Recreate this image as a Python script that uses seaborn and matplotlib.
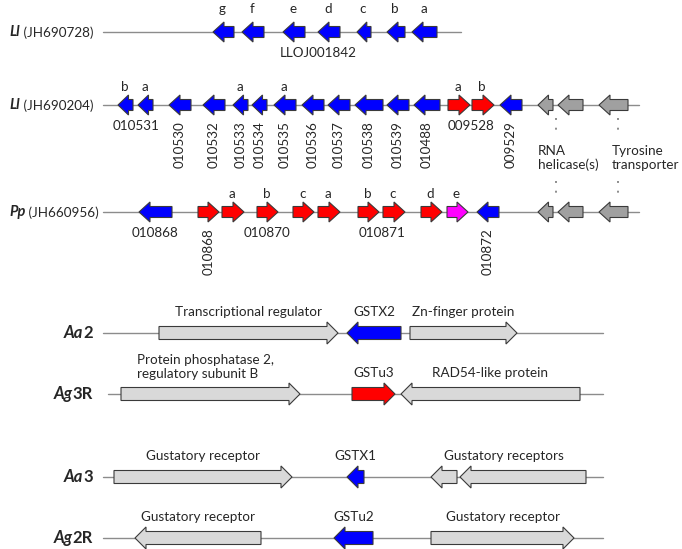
import matplotlib
matplotlib.use("Agg")
import matplotlib.pyplot as plt
from matplotlib.patches import Polygon
import seaborn as sns
import pandas as pd

# ---------------- data ----------------
track_species = ["Ll", "Ll", "Pp", "Aa", "Ag", "Aa", "Ag"]
track_suffix = [" (JH690728)", " (JH690204)", " (JH660956)", "2", "3R", "3", "2R"]
track_line_start = [103, 103, 103, 103, 108, 103, 103]
track_line_end = [461, 639, 639, 603, 603, 603, 603]

# genes: track, start, end, strand, kind, letter, id, id style, description
gene_track = ([0] * 7 + [1] * 18 + [2] * 14 + [3] * 3 + [4] * 3 + [5] * 4 + [6] * 3)
gene_start = [213, 242, 283, 318, 357, 387, 412,
              118, 138, 169, 203, 233, 252, 274, 302, 328, 355, 387, 414, 448, 472, 500, 538, 558, 599,
              139, 198, 222, 257, 293, 318, 358, 383, 421, 447, 477, 538, 558, 599,
              159, 347, 410,
              121, 352, 401,
              114, 347, 431, 460,
              135, 334, 431]
gene_end = [234, 264, 305, 340, 371, 405, 437,
            133, 153, 191, 225, 248, 267, 296, 324, 350, 383, 409, 440, 470, 494, 522, 553, 583, 628,
            172, 219, 244, 278, 314, 340, 379, 405, 442, 468, 499, 553, 583, 628,
            338, 401, 517,
            300, 395, 580,
            292, 364, 457, 586,
            261, 373, 574]
gene_strand = [-1] * 7 + \
              [-1] * 12 + [1, 1] + [-1] * 4 + \
              [-1] + [1] * 9 + [-1] * 4 + \
              [1, -1, 1] + \
              [1, 1, -1] + \
              [1, -1, -1, -1] + \
              [-1, -1, 1]
gene_kind = ["blue"] * 7 + \
            ["blue"] * 12 + ["red", "red", "blue", "gray", "gray", "gray"] + \
            ["blue"] + ["red"] * 8 + ["magenta", "blue", "gray", "gray", "gray"] + \
            ["light", "blue", "light"] + \
            ["light", "red", "light"] + \
            ["light", "blue", "light", "light"] + \
            ["light", "blue", "light"]
gene_letter = ["g", "f", "e", "d", "c", "b", "a",
               "b", "a", "", "", "a", "", "a", "", "", "", "", "", "a", "b", "", "", "", "",
               "", "", "a", "b", "c", "a", "b", "c", "d", "e", "", "", "", ""] + [""] * 13
gene_vlabel = [""] * 7 + \
              ["", "", "010530", "010532", "010533", "010534", "010535", "010536", "010537",
               "010538", "010539", "010488", "", "", "009529", "", "", ""] + \
              ["", "010868", "", "", "", "", "", "", "", "", "010872", "", "", ""] + [""] * 13
gene_hlabel = [""] * 7 + [""] * 18 + \
              ["010868", "", "", "010870", "", "", "", "", "", "", "", "", "", ""] + [""] * 13
gene_desc = [""] * 39 + \
            ["Transcriptional regulator", "GSTX2", "Zn-finger protein",
             "", "GSTu3", "RAD54-like protein",
             "Gustatory receptor", "GSTX1", "", "",
             "Gustatory receptor", "GSTu2", "Gustatory receptor"]

# labels that span several genes
span_text = ["LLOJ001842", "010531", "009528", "010871",
             "Protein phosphatase 2,\nregulatory subunit B", "Gustatory receptors"]
span_track = [0, 1, 1, 2, 4, 5]
span_x = [318, 136, 471, 382, 137, 504]

genes = pd.DataFrame(dict(track=gene_track, start=gene_start, end=gene_end,
                          strand=gene_strand, kind=gene_kind, letter=gene_letter,
                          vlabel=gene_vlabel, hlabel=gene_hlabel, desc=gene_desc))

# ---------------- layout / style ----------------
TRACK_Y = [32, 105, 212, 333, 394, 477, 538]
LETTER_DY = [23, 18, 18]
COLORS = {"blue": "#0000FF", "red": "#FF0000", "magenta": "#FF00FF",
          "gray": "#A0A0A0", "light": "#D9D9D9"}

sns.set_theme(style="white")
plt.rcParams['font.family'] = ['Lato', 'DejaVu Sans']

fig = plt.figure(figsize=(6.82, 5.49), dpi=100)
ax = fig.add_axes([0, 0, 1, 1])
ax.set_xlim(0, 682)
ax.set_ylim(549, 0)
ax.axis('off')

FS = 9.7

# backbone lines
for t, y in enumerate(TRACK_Y):
    ax.plot([track_line_start[t], track_line_end[t]], [y, y], color="#8c8c8c", lw=1.0, zorder=1)


def arrow(s, e, strand, y, color, bh, hh, hl):
    hl = min(hl, 0.7 * (e - s))
    if strand > 0:
        pts = [(s, y - bh / 2), (e - hl, y - bh / 2), (e - hl, y - hh / 2), (e, y),
               (e - hl, y + hh / 2), (e - hl, y + bh / 2), (s, y + bh / 2)]
    else:
        pts = [(e, y - bh / 2), (s + hl, y - bh / 2), (s + hl, y - hh / 2), (s, y),
               (s + hl, y + hh / 2), (s + hl, y + bh / 2), (e, y + bh / 2)]
    ax.add_patch(Polygon(pts, closed=True, facecolor=color, edgecolor="#3a3a3a",
                         lw=0.8, joinstyle="miter", zorder=3))


for _, g in genes.iterrows():
    y = TRACK_Y[g.track]
    top = g.track < 3
    arrow(g.start, g.end, g.strand, y, COLORS[g.kind],
          11 if top else 13, 20 if top else 22, 11)
    cx = (g.start + g.end) / 2
    if g.letter:
        ax.text(cx - 1, y - LETTER_DY[g.track], g.letter, ha="center", va="center", fontsize=FS)
    if g.vlabel:
        ax.text(cx, y + 16, g.vlabel, rotation=90, ha="center", va="top", fontsize=FS)
    if g.hlabel:
        ax.text(cx, y + 21, g.hlabel, ha="center", va="center", fontsize=FS)
    if g.desc:
        ax.text(cx, y - 21, g.desc, ha="center", va="center", fontsize=FS)

for txt, t, x in zip(span_text, span_track, span_x):
    y = TRACK_Y[t]
    if t < 3:
        ax.text(x, y + 21, txt, ha="center", va="center", fontsize=FS)
    elif "\n" in txt:
        ax.text(x, y - 27, txt, ha="left", va="center", fontsize=FS, linespacing=1.25)
    else:
        ax.text(x, y - 21, txt, ha="center", va="center", fontsize=FS)

# track labels
for t, y in enumerate(TRACK_Y):
    if t < 3:
        sp = ax.text(9, y, track_species[t], ha="left", va="center", fontsize=10.5,
                     fontweight="bold", fontstyle="italic")
        ax.annotate(track_suffix[t], xy=(1, 0), xycoords=sp, ha="left", va="bottom",
                    fontsize=FS)
    else:
        num = ax.text(93, y, track_suffix[t], ha="right", va="center", fontsize=12,
                      fontweight="bold")
        ax.annotate(track_species[t], xy=(0, 0), xycoords=num, ha="right", va="bottom",
                    fontsize=12, fontweight="bold", fontstyle="italic")

# dotted connectors and gray gene notes
for x in (556, 618):
    ax.plot([x, x], [118, 137], color="#8c8c8c", lw=1.4, ls=(0, (1, 4)), zorder=2)
    ax.plot([x, x], [181, 200], color="#8c8c8c", lw=1.4, ls=(0, (1, 4)), zorder=2)
ax.text(538, 158, "RNA\nhelicase(s)", ha="left", va="center", fontsize=FS, linespacing=1.2)
ax.text(612, 158, "Tyrosine\ntransporter", ha="left", va="center", fontsize=FS, linespacing=1.2)

fig.savefig("out.png", dpi=100, facecolor="white")
